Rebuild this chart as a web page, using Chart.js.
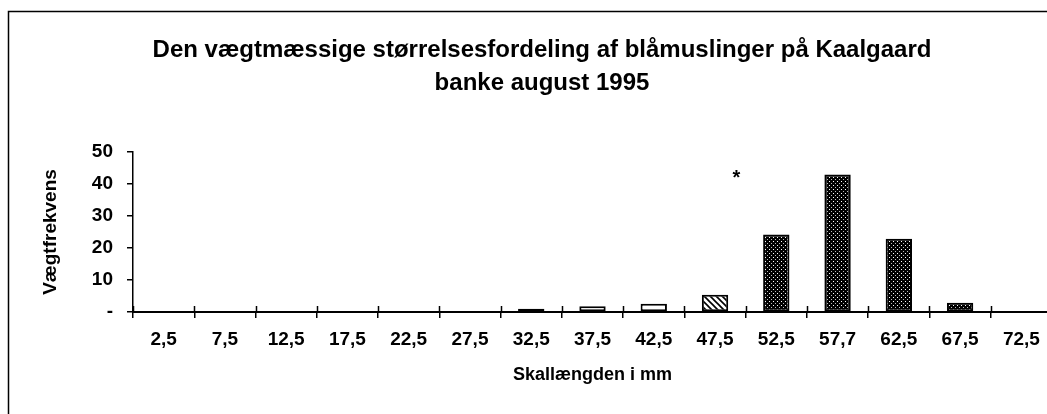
<!DOCTYPE html>
<html>
<head>
<meta charset="utf-8">
<script src="https://cdn.jsdelivr.net/npm/chart.js@4.4.0/dist/chart.umd.min.js"></script>
<style>
  html, body { margin: 0; padding: 0; background: #fff; overflow: hidden; }
  #wrap { width: 1047px; height: 414px; overflow: hidden; position: relative; }
  canvas { display: block; }
</style>
</head>
<body>
<div id="wrap"><canvas id="chart" width="1052" height="414"></canvas></div>
<script>
const categories = ['2,5', '7,5', '12,5', '17,5', '22,5', '27,5', '32,5', '37,5', '42,5', '47,5', '52,5', '57,7', '62,5', '67,5', '72,5'];
const weightFreq = [0, 0, 0, 0, 0, 0, 1, 1.8, 2.6, 5.4, 24.2, 43, 22.9, 2.9, 0];
const fillKind = ['dots', 'dots', 'dots', 'dots', 'dots', 'dots', 'dots', 'white', 'white', 'hatch', 'dots', 'dots', 'dots', 'dots', 'dots'];
const yTicks = [0, 10, 20, 30, 40, 50];
const starNote = { text: '*', at: 9.35, value: 43 };

const FONT = '"Liberation Sans", Arial, sans-serif';

function makePattern(kind) {
  const t = document.createElement('canvas');
  const g = t.getContext('2d');
  if (kind === 'dots') {
    t.width = 4; t.height = 4;
    g.fillStyle = '#000'; g.fillRect(0, 0, 4, 4);
    g.fillStyle = '#fff'; g.fillRect(1, 1, 1, 1);
    g.fillStyle = '#bbb'; g.fillRect(3, 3, 1, 1);
  } else if (kind === 'hatch') {
    t.width = 6; t.height = 6;
    g.fillStyle = '#fff'; g.fillRect(0, 0, 6, 6);
    g.strokeStyle = '#000'; g.lineWidth = 1.6;
    g.beginPath();
    g.moveTo(-1, -1); g.lineTo(7, 7);
    g.moveTo(-4, 2); g.lineTo(2, 8);
    g.moveTo(2, -4); g.lineTo(8, 2);
    g.stroke();
  } else {
    return '#fff';
  }
  return g.createPattern(t, 'repeat');
}

const fills = fillKind.map(makePattern);

// frame, crossing tick marks and the asterisk note
const extras = {
  id: 'extras',
  beforeDraw(chart) {
    const c = chart.ctx;
    c.save();
    c.fillStyle = '#fff';
    c.fillRect(0, 0, chart.width, chart.height);
    c.strokeStyle = '#000';
    c.lineWidth = 1.5;
    c.beginPath();
    c.moveTo(8.5, chart.height + 5);
    c.lineTo(8.5, 11.5);
    c.lineTo(chart.width + 5, 11.5);
    c.stroke();
    c.restore();
  },
  afterDraw(chart) {
    const c = chart.ctx;
    const x = chart.scales.x;
    const y = chart.scales.y;
    const half = (x.getPixelForValue(1) - x.getPixelForValue(0)) / 2;
    c.save();
    c.strokeStyle = '#000';
    c.lineWidth = 1.5;
    c.beginPath();
    for (let i = 0; i <= categories.length; i++) {
      const px = Math.round(x.getPixelForValue(i) - half) + 0.5;
      c.moveTo(px, y.bottom - 6);
      c.lineTo(px, y.bottom);
    }
    c.stroke();
    c.fillStyle = '#000';
    c.font = 'bold 20px ' + FONT;
    c.textAlign = 'center';
    c.textBaseline = 'middle';
    c.fillText(starNote.text, x.getPixelForValue(starNote.at), y.getPixelForValue(starNote.value) + 4);
    c.restore();
  }
};

new Chart(document.getElementById('chart'), {
  type: 'bar',
  data: {
    labels: categories,
    datasets: [{
      label: 'Vægtfrekvens',
      data: weightFreq,
      backgroundColor: fills,
      borderColor: '#000',
      borderWidth: 2,
      borderSkipped: false,
      categoryPercentage: 1,
      barPercentage: 0.43
    }]
  },
  options: {
    responsive: false,
    animation: false,
    layout: { padding: { left: 32, right: 0, top: 0, bottom: 0 } },
    plugins: {
      legend: { display: false },
      tooltip: { enabled: false },
      title: {
        display: true,
        text: ['Den vægtmæssige størrelsesfordeling af blåmuslinger på Kaalgaard', 'banke august 1995'],
        color: '#000',
        font: { family: FONT, size: 24, weight: 'bold', lineHeight: 1.375 },
        padding: { top: 34, bottom: 52 }
      }
    },
    scales: {
      x: {
        offset: true,
        grid: { display: true, offset: true, drawOnChartArea: false, color: '#000', lineWidth: 1.5, tickLength: 6 },
        border: { display: true, color: '#000', width: 2 },
        ticks: { color: '#000', padding: 10, maxRotation: 0, autoSkip: false, font: { family: FONT, size: 19, weight: 'bold' } },
        title: {
          display: true,
          text: 'Skallængden i mm',
          color: '#000',
          font: { family: FONT, size: 18, weight: 'bold' },
          padding: { top: 0, bottom: 28 }
        },
        afterFit(scale) { scale.height = 102; }
      },
      y: {
        min: 0,
        max: 50,
        afterBuildTicks(scale) { scale.ticks = yTicks.map(v => ({ value: v })); },
        grid: { display: true, drawOnChartArea: false, color: '#000', lineWidth: 1.5, tickLength: 6 },
        border: { display: true, color: '#000', width: 1.5 },
        ticks: {
          color: '#000',
          padding: 14,
          font: { family: FONT, size: 19, weight: 'bold' },
          callback: v => v === 0 ? '-' : String(v)
        },
        title: {
          display: true,
          text: 'Vægtfrekvens',
          color: '#000',
          font: { family: FONT, size: 19, weight: 'bold' },
          padding: { top: 7, bottom: 0 }
        },
        afterFit(scale) { scale.width = 101; }
      }
    }
  },
  plugins: [extras]
});
</script>
</body>
</html>
